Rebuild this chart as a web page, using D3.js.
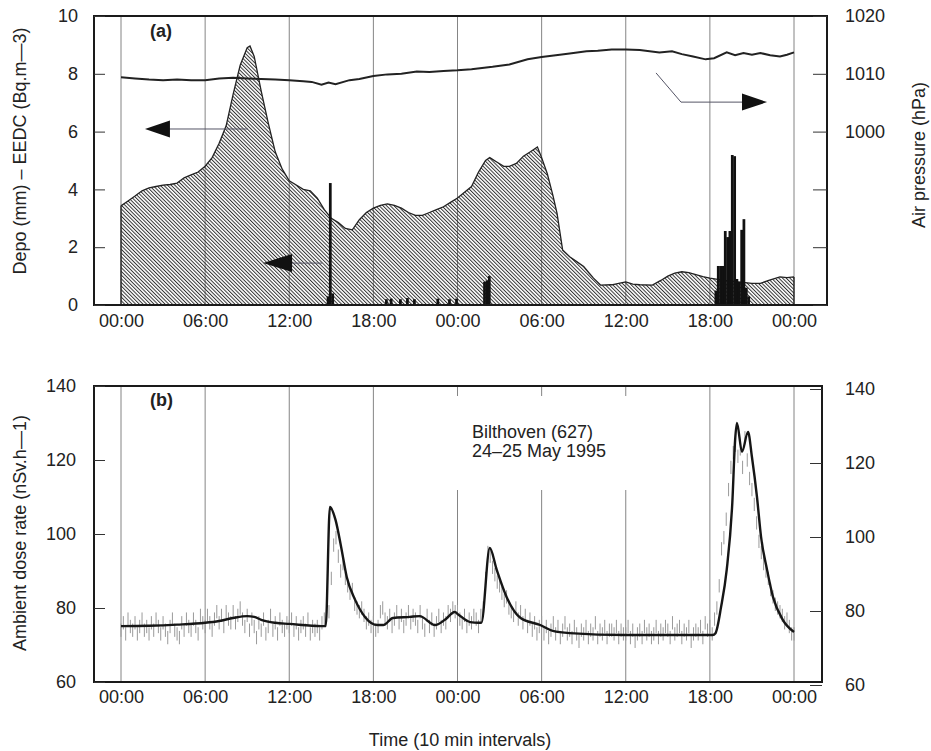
<!DOCTYPE html>
<html><head><meta charset="utf-8">
<script src="https://cdn.jsdelivr.net/npm/d3@7"></script>
<style>
html,body{margin:0;padding:0;background:#fff;}
svg{display:block;font-family:"Liberation Sans",Arial,Helvetica,sans-serif;}
</style></head>
<body>
<svg id="chart" width="931" height="751"></svg>
<script>
// ---------------- DATA ----------------
const timeTicks = [0, 6, 12, 18, 24, 30, 36, 42, 48];          // hours since 24 May 00:00
const timeTickLabels = ["00:00","06:00","12:00","18:00","00:00","06:00","12:00","18:00","00:00"];

// Panel (a): EEDC (Bq.m-3), hatched area
const eedcTime  = [0,0.5,1,1.5,2,2.5,3,3.5,4,4.5,5,5.5,6,6.5,7,7.5,8,8.5,9,9.2,9.5,10,10.5,11,11.5,12,12.5,13,13.5,14,14.5,15,15.5,16,16.5,17,17.5,18,18.5,19,19.5,20,20.5,21,21.5,22,22.5,23,23.5,24,24.5,25,25.5,26,26.3,26.8,27.3,27.7,28.2,28.7,29.2,29.7,30,30.4,30.8,31.1,31.5,32,32.5,33,33.4,33.7,34.2,35,35.5,36,36.5,37,37.9,38.5,39,39.5,40,40.5,41,41.5,42,43,44,45,45.6,46.2,47,47.5,48];
const eedcValue = [3.43,3.6,3.77,3.95,4.05,4.1,4.15,4.17,4.22,4.4,4.5,4.6,4.8,5.1,5.6,6.2,7.3,8.3,8.9,8.96,8.6,7.4,6.3,5.3,4.7,4.3,4.15,4.0,3.95,3.7,3.3,3.0,2.85,2.65,2.6,2.95,3.2,3.35,3.45,3.5,3.45,3.35,3.2,3.1,3.1,3.2,3.3,3.4,3.55,3.7,3.9,4.1,4.6,5.0,5.1,4.95,4.8,4.8,4.9,5.15,5.3,5.47,5.1,4.55,3.8,3.17,1.9,1.67,1.5,1.33,1.1,0.93,0.69,0.7,0.75,0.8,0.72,0.7,0.69,0.85,1.0,1.1,1.15,1.12,1.05,0.98,0.93,0.85,0.8,0.75,0.75,0.85,0.97,0.95,0.97];

// Panel (a): rain deposition (mm) per 10-min interval, start hour of interval
const rainTime = [14.67,14.83,15.0,18.83,19.17,19.83,20.33,20.83,22.5,23.33,23.83,25.83,26.0,26.17,42.33,42.5,42.67,42.83,43.0,43.17,43.33,43.5,43.67,43.83,44.0,44.17,44.33,44.5,44.67];
const rainDepo = [0.3,4.22,0.4,0.2,0.22,0.2,0.24,0.2,0.22,0.2,0.22,0.8,0.85,1.0,0.5,1.35,1.35,1.35,2.56,2.35,2.56,5.19,5.15,0.9,0.8,2.6,2.97,0.6,0.3];

// Panel (a): air pressure (hPa)
const pressTime  = [0,1,2,3,4,5,6,7,8,9,10,11,12,13,13.6,14.3,14.8,15.3,16.3,17,18,19,20,21.1,22,23,24,25,26.5,27.7,29,30,31.3,32,33.2,34,35,36,37,38.4,39.3,40,40.8,41.7,42.3,43.2,43.8,44.4,45,45.6,46.3,47,47.5,48];
const pressValue = [1009.4,1009.2,1009.0,1008.9,1009.0,1008.9,1008.9,1009.2,1009.3,1009.2,1009.1,1009.0,1008.9,1008.7,1008.6,1008.1,1008.5,1008.2,1008.9,1009.1,1009.6,1009.9,1010.0,1010.4,1010.3,1010.5,1010.6,1010.8,1011.2,1011.6,1012.5,1012.9,1013.3,1013.5,1013.9,1014.0,1014.2,1014.2,1014.1,1013.7,1013.9,1013.4,1013.0,1012.5,1012.7,1013.7,1013.2,1013.6,1013.3,1013.6,1013.2,1013.0,1013.3,1013.7];

// Panel (b): ambient dose rate (nSv.h-1), smoothed line
const doseTime  = [0,2,4,6,7,8,9,9.5,10,11,12,14.3,14.6,14.9,15.3,15.7,16.1,16.7,17.4,18.3,18.7,19.4,20.6,21.3,22.4,23.1,23.8,24.1,24.9,25.5,25.7,26.3,26.8,27.5,28.5,29.9,30.8,32,36,42.2,42.4,42.8,43.2,43.6,43.8,43.93,44.29,44.72,45.0,45.36,45.65,46.08,46.5,47.2,48];
const doseValue = [75.1,75.2,75.5,76.0,76.5,77.3,77.8,77.6,76.8,76.0,75.7,75.1,75.1,107.3,103.8,96.5,88.4,82.2,77.6,75.4,75.4,77.3,77.6,77.8,75.4,76.8,78.9,78.1,76.2,76.0,76.0,96.2,90.3,83.0,77.3,75.4,73.8,73.2,72.7,72.7,73.2,80.3,90.3,108.4,125.4,130.0,122.2,127.6,120.8,110.0,99.2,90.3,83.0,76.8,73.5];

// Panel (b): raw 10-min readings (vertical grey marks), one row per hour
const doseRaw = [
 74,76,73,77,75,74,  76,73,75,77,74,75,  73,76,74,77,75,73,  76,74,72,75,77,74,
 73,72,76,74,77,75,  74,77,75,73,78,76,  75,78,76,74,77,79,  76,78,75,79,77,76,
 79,76,78,80,77,75,  78,74,77,75,72,76,  74,77,73,75,78,74,  76,73,77,75,74,76,
 75,77,74,76,73,75,  76,74,77,73,75,74,  75,73,76,77,78,79,  88,97,99,94,90,92,
 88,86,84,85,81,80,  79,80,78,76,77,75,  76,74,75,79,80,77,  76,78,75,77,79,76,
 78,75,77,79,76,78,  77,75,79,76,74,78,  75,77,74,76,78,75,  77,76,79,78,80,79,
 79,77,76,78,75,77,  76,78,77,75,78,80,  88,95,94,91,89,87,  86,84,82,83,80,79,
 78,80,77,79,76,78,  75,77,74,76,73,75,  76,73,75,72,74,76,  73,75,72,74,76,73,
 74,72,75,73,71,74,  73,75,72,74,73,76,  72,74,73,75,72,74,  74,73,75,72,74,73,
 73,75,72,74,71,73,  74,72,75,73,74,72,  73,75,72,74,73,75,  74,72,76,73,74,75,
 72,74,73,75,71,73,  74,73,75,72,76,74,  75,73,77,80,86,96,  99,104,112,118,122,124,
 121,123,118,126,120,115,  112,108,103,98,95,92,  90,88,85,83,81,80,  79,78,76,77,75,73,
 73];

const leftTicksA  = [0, 2, 4, 6, 8, 10];
const rightTicksA = [970, 980, 990, 1000, 1010, 1020];
const rightLabelsA = [1000, 1010, 1020];
const ticksB = [60, 80, 100, 120, 140];

// ---------------- LAYOUT ----------------
const svg = d3.select("#chart");
const FONT = 18, INK = "#222";
const frameA = {l: 94, t: 16, r: 827, b: 305};
const frameB = {l: 94, t: 386, r: 822, b: 682};

const x = d3.scaleLinear().domain([0, 48]).range([121, 794]);
const yA = d3.scaleLinear().domain([0, 10]).range([frameA.b, frameA.t]);
const yP = d3.scaleLinear().domain([970, 1020]).range([frameA.b, frameA.t]);
const yB = d3.scaleLinear().domain([60, 140]).range([frameB.b, frameB.t]);

// hatch pattern
const defs = svg.append("defs");
defs.append("pattern").attr("id", "hatch").attr("patternUnits", "userSpaceOnUse")
  .attr("width", 2.6).attr("height", 10).attr("patternTransform", "rotate(-45)")
  .append("line").attr("x1", 0.5).attr("y1", 0).attr("x2", 0.5).attr("y2", 10)
  .attr("stroke", "#2a2a2a").attr("stroke-width", 0.95);

function styleAxis(g) {
  g.select(".domain").remove();
  g.selectAll(".tick line").attr("stroke", "#333").attr("stroke-width", 1);
  g.selectAll(".tick text").attr("font-size", FONT).attr("fill", INK)
    .attr("font-family", '"Liberation Sans",Arial,sans-serif');
}

// ---------- PANEL A ----------
const gA = svg.append("g");
// gridlines
gA.selectAll("line.grid").data(timeTicks).join("line")
  .attr("x1", d => x(d)).attr("x2", d => x(d))
  .attr("y1", frameA.t).attr("y2", frameA.b)
  .attr("stroke", "#777").attr("stroke-width", 0.9);

// EEDC area
const eedc = eedcTime.map((t, i) => [t, eedcValue[i]]);
gA.append("path").datum(eedc)
  .attr("d", d3.area().x(d => x(d[0])).y0(yA(0)).y1(d => yA(d[1])))
  .attr("fill", "url(#hatch)").attr("stroke", "none");
gA.append("path").datum(eedc)
  .attr("d", d3.line().x(d => x(d[0])).y(d => yA(d[1])))
  .attr("fill", "none").attr("stroke", "#222").attr("stroke-width", 1.3);
// vertical edges of the area
gA.append("line").attr("x1", x(0)).attr("x2", x(0)).attr("y1", yA(0)).attr("y2", yA(eedcValue[0]))
  .attr("stroke", "#222").attr("stroke-width", 1.3);
gA.append("line").attr("x1", x(48)).attr("x2", x(48)).attr("y1", yA(0)).attr("y2", yA(eedcValue[eedcValue.length-1]))
  .attr("stroke", "#222").attr("stroke-width", 1.3);

// rain bars
gA.selectAll("rect.rain").data(rainTime.map((t, i) => [t, rainDepo[i]])).join("rect")
  .attr("x", d => x(d[0])).attr("width", d => x(d[0] + 1/6) - x(d[0]) + 0.4)
  .attr("y", d => yA(d[1])).attr("height", d => yA(0) - yA(d[1]))
  .attr("fill", "#111");

// pressure line
gA.append("path").datum(pressTime.map((t, i) => [t, pressValue[i]]))
  .attr("d", d3.line().x(d => x(d[0])).y(d => yP(d[1])))
  .attr("fill", "none").attr("stroke", "#222").attr("stroke-width", 2);

// annotation arrows
const arrowInk = "#111", arrowLine = "#556";
function headLeft(tipX, baseX, yy, h) {
  gA.append("path").attr("d", `M${tipX},${yy}L${baseX},${yy - h}L${baseX},${yy + h}Z`).attr("fill", arrowInk);
}
// arrow 1 (EEDC -> left axis)
gA.append("line").attr("x1", x(2.9)).attr("x2", x(9.06)).attr("y1", yA(6.09)).attr("y2", yA(6.09))
  .attr("stroke", arrowLine).attr("stroke-width", 1);
headLeft(x(1.71), x(3.49), yA(6.09), 8.5);
// arrow 2 (rain -> left axis)
gA.append("line").attr("x1", x(11.9)).attr("x2", x(14.34)).attr("y1", yA(1.45)).attr("y2", yA(1.45))
  .attr("stroke", arrowLine).attr("stroke-width", 1);
headLeft(x(10.13), x(12.2), yA(1.45), 9);
// arrow 3 (pressure -> right axis)
gA.append("path").attr("d", `M${x(38.16)},${yA(8.03)}L${x(39.94)},${yA(7.02)}L${x(44.5)},${yA(7.02)}`)
  .attr("fill", "none").attr("stroke", arrowLine).attr("stroke-width", 1);
gA.append("path").attr("d", `M${x(46.08)},${yA(7.02)}L${x(44.29)},${yA(7.02) - 8.5}L${x(44.29)},${yA(7.02) + 8.5}Z`)
  .attr("fill", arrowInk);

// frame
gA.append("rect").attr("x", frameA.l).attr("y", frameA.t)
  .attr("width", frameA.r - frameA.l).attr("height", frameA.b - frameA.t)
  .attr("fill", "none").attr("stroke", "#1a1a1a").attr("stroke-width", 2);

// axes
gA.append("g").attr("transform", `translate(${frameA.l},0)`)
  .call(d3.axisLeft(yA).tickValues(leftTicksA).tickSizeInner(-11).tickSizeOuter(0).tickPadding(16))
  .call(styleAxis);
gA.append("g").attr("transform", `translate(${frameA.r},0)`)
  .call(d3.axisRight(yP).tickValues(rightTicksA).tickSizeInner(-14).tickSizeOuter(0).tickPadding(18)
    .tickFormat(d => rightLabelsA.includes(d) ? d : ""))
  .call(styleAxis);
gA.append("g").attr("transform", `translate(0,${frameA.b})`)
  .call(d3.axisBottom(x).tickValues(timeTicks).tickSize(0).tickPadding(9)
    .tickFormat((d, i) => timeTickLabels[i]))
  .call(styleAxis);

gA.append("text").attr("x", 150).attr("y", 37).attr("font-size", FONT).attr("font-weight", "bold")
  .attr("fill", INK).text("(a)");

// ---------- PANEL B ----------
const gB = svg.append("g");
gB.selectAll("line.grid").data(timeTicks).join("line")
  .attr("x1", d => x(d)).attr("x2", d => x(d))
  .attr("y1", frameB.t).attr("y2", frameB.b)
  .attr("stroke", "#777").attr("stroke-width", 0.9);
// white box behind station label (interrupts gridlines)
gB.append("rect").attr("x", x(23.4)).attr("y", frameB.t + 10).attr("width", x(37.6) - x(23.4)).attr("height", 94)
  .attr("fill", "#fff");

// raw marks
gB.selectAll("line.raw").data(doseRaw).join("line")
  .attr("x1", (d, i) => x(i / 6)).attr("x2", (d, i) => x(i / 6))
  .attr("y1", d => yB(d - 1.8)).attr("y2", d => yB(d + 1.8))
  .attr("stroke", "#9a9a9a").attr("stroke-width", 1);

// smoothed line
gB.append("path").datum(doseTime.map((t, i) => [t, doseValue[i]]))
  .attr("d", d3.line().curve(d3.curveMonotoneX).x(d => x(d[0])).y(d => yB(d[1])))
  .attr("fill", "none").attr("stroke", "#161616").attr("stroke-width", 2.4);

gB.append("rect").attr("x", frameB.l).attr("y", frameB.t)
  .attr("width", frameB.r - frameB.l).attr("height", frameB.b - frameB.t)
  .attr("fill", "none").attr("stroke", "#1a1a1a").attr("stroke-width", 2);

gB.append("g").attr("transform", `translate(${frameB.l},0)`)
  .call(d3.axisLeft(yB).tickValues(ticksB).tickSizeInner(-11).tickSizeOuter(0).tickPadding(18))
  .call(styleAxis);
gB.append("g").attr("transform", `translate(${frameB.r},3)`)
  .call(d3.axisRight(yB).tickValues(ticksB).tickSizeInner(-12).tickSizeOuter(0).tickPadding(23))
  .call(styleAxis);
gB.append("g").attr("transform", `translate(0,${frameB.b})`)
  .call(d3.axisBottom(x).tickValues(timeTicks).tickSize(0).tickPadding(8)
    .tickFormat((d, i) => timeTickLabels[i]))
  .call(styleAxis);

gB.append("text").attr("x", 150).attr("y", 406).attr("font-size", FONT).attr("font-weight", "bold")
  .attr("fill", INK).text("(b)");
gB.append("text").attr("x", 472).attr("y", 438).attr("font-size", FONT).attr("fill", INK).text("Bilthoven (627)");
gB.append("text").attr("x", 472).attr("y", 457).attr("font-size", FONT).attr("fill", INK).text("24–25 May 1995");

// ---------- AXIS TITLES ----------
svg.append("text").attr("transform", "translate(20,151) rotate(-90)").attr("text-anchor", "middle")
  .attr("dominant-baseline", "central").attr("font-size", FONT).attr("fill", INK)
  .text("Depo (mm) – EEDC (Bq.m—3)");
svg.append("text").attr("transform", "translate(919,155) rotate(-90)").attr("text-anchor", "middle")
  .attr("dominant-baseline", "central").attr("font-size", FONT).attr("fill", INK)
  .text("Air pressure (hPa)");
svg.append("text").attr("transform", "translate(20,533) rotate(-90)").attr("text-anchor", "middle")
  .attr("dominant-baseline", "central").attr("font-size", FONT).attr("fill", INK)
  .text("Ambient dose rate (nSv.h—1)");
svg.append("text").attr("x", 460).attr("y", 746).attr("text-anchor", "middle")
  .attr("font-size", FONT).attr("fill", INK).text("Time (10 min intervals)");
</script>
</body></html>
